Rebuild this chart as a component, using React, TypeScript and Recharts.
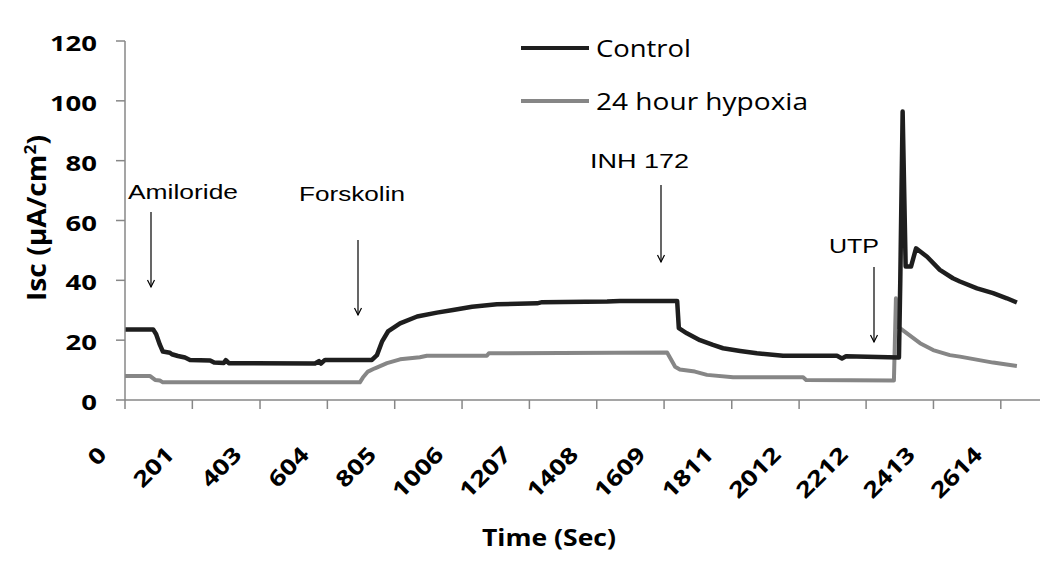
import React from 'react';
import { LineChart, Line, XAxis, YAxis } from 'recharts';

// x ticks (Sec) and y ticks (µA/cm²)
const timeTicks = [0, 201, 403, 604, 805, 1006, 1207, 1408, 1609, 1811, 2012, 2212, 2413, 2614];
const iscTicks = [0, 20, 40, 60, 80, 100, 120];

const seriesNames = ['Control', '24 hour hypoxia'];
const treatments = ['Amiloride', 'Forskolin', 'INH 172', 'UTP'];

// Control trace
const controlTime = [
  0, 84, 93, 104, 113, 134, 140, 158, 179, 194, 254, 266, 295, 301, 310, 567, 579, 585, 597,
  737, 752, 767, 785, 821, 872, 931, 979, 1036, 1110, 1230, 1245, 1439, 1477, 1648, 1653, 1677,
  1716, 1755, 1785, 1836, 1886, 1964, 2125, 2140, 2152, 2310, 2314, 2321, 2330, 2346, 2361,
  2394, 2432, 2471, 2492, 2543, 2591, 2632, 2662,
];
const controlIsc = [
  23.6, 23.6, 22, 18.5, 16.2, 15.8, 15.3, 14.7, 14.2, 13.4, 13.2, 12.5, 12.4, 13.3, 12.3, 12.2, 13.0, 12.2, 13.4,
  13.4, 15, 19.5, 22.9, 25.6, 27.9, 29.2, 30.1, 31.2, 32.0, 32.3, 32.7, 32.9, 33.1, 33.1, 24, 22.3,
  20, 18.4, 17.3, 16.4, 15.6, 14.8, 14.8, 13.9, 14.6, 14.2, 40, 96.4, 44.6, 44.6, 50.7,
  47.9, 43.5, 40.7, 39.6, 37.3, 35.7, 34, 32.6,
];

// 24 hour hypoxia trace
const hypoxiaTime = [
  0, 75, 90, 104, 113, 701, 710, 725, 746, 782, 821, 880, 901, 1080, 1086, 1618, 1642, 1656,
  1701, 1737, 1815, 2024, 2033, 2295, 2301, 2307, 2334, 2373, 2412, 2462, 2492, 2591, 2662,
];
const hypoxiaIsc = [
  8.0, 8.0, 6.7, 6.5, 5.9, 5.9, 7.5, 9.5, 10.6, 12.3, 13.6, 14.3, 14.8, 14.8, 15.6, 15.9, 11.1, 10.2,
  9.5, 8.4, 7.6, 7.6, 6.7, 6.5, 34, 24.5, 22.3, 19, 16.7, 15, 14.5, 12.5, 11.4,
];

const controlData = controlTime.map((t, i) => ({ t, isc: controlIsc[i] }));
const hypoxiaData = hypoxiaTime.map((t, i) => ({ t, isc: hypoxiaIsc[i] }));

const AXIS = '#878787';
const DARK = '#1e1e1e';
const GREY = '#868686';
const BOLD_FONT = '"Open Sans", Lato, sans-serif';
const NOTE_FONT = '"Liberation Sans", Arial, sans-serif';

const YTick = (props: any) => {
  const { x, y, payload } = props;
  const s = String(payload.value);
  return (
    <text x={x - 17} y={y + 10} textAnchor="end" fontFamily={BOLD_FONT} fontWeight={700} fontSize={22}
      textLength={s.length * 15.7} lengthAdjust="spacingAndGlyphs" fill="#000">
      {s}
    </text>
  );
};

const XTick = (props: any) => {
  const { x, y, payload } = props;
  const s = String(payload.value);
  return (
    <text transform={`translate(${x - 17},${y + 45}) rotate(-45)`} textAnchor="end" fontFamily={BOLD_FONT}
      fontWeight={700} fontSize={22} textLength={s.length * 15.5} lengthAdjust="spacingAndGlyphs" fill="#000">
      {s}
    </text>
  );
};

const Arrow = ({ x, y1, y2 }: { x: number; y1: number; y2: number }) => (
  <g stroke="#000" strokeWidth={1.2} fill="none">
    <line x1={x} y1={y1} x2={x} y2={y2} />
    <polyline points={`${x - 3.5},${y2 - 7} ${x},${y2} ${x + 3.5},${y2 - 7}`} />
  </g>
);

const Note = ({ x, y, w, children }: { x: number; y: number; w: number; children: React.ReactNode }) => (
  <text x={x} y={y} fontFamily={NOTE_FONT} fontSize={21} fill="#000" textLength={w} lengthAdjust="spacingAndGlyphs">
    {children}
  </text>
);

export default function App() {
  return (
    <div style={{ position: 'absolute', left: 0, top: 0, width: 1050, height: 570, background: '#fff' }}>
      <LineChart width={1050} height={570} margin={{ top: 41, right: 10, bottom: 0, left: 0 }}>
        <XAxis
          type="number"
          dataKey="t"
          domain={[0, 2731]}
          ticks={timeTicks}
          interval={0}
          height={170}
          tickSize={9}
          axisLine={{ stroke: AXIS, strokeWidth: 1.5 }}
          tickLine={{ stroke: AXIS, strokeWidth: 1.5 }}
          tick={<XTick />}
          allowDataOverflow
        />
        <YAxis
          type="number"
          domain={[0, 120]}
          ticks={iscTicks}
          interval={0}
          width={125}
          tickSize={9}
          axisLine={{ stroke: AXIS, strokeWidth: 1.5 }}
          tickLine={{ stroke: AXIS, strokeWidth: 1.5 }}
          tick={<YTick />}
        />
        <Line data={hypoxiaData} dataKey="isc" name={seriesNames[1]} type="linear" stroke={GREY} strokeWidth={4}
          dot={false} activeDot={false} isAnimationActive={false} strokeLinejoin="round" />
        <Line data={controlData} dataKey="isc" name={seriesNames[0]} type="linear" stroke={DARK} strokeWidth={4.5}
          dot={false} activeDot={false} isAnimationActive={false} strokeLinejoin="round" />

        {/* treatment markers */}
        <Note x={128} y={199} w={110}>{treatments[0]}</Note>
        <Arrow x={151} y1={212} y2={287} />
        <Note x={299} y={201} w={106}>{treatments[1]}</Note>
        <Arrow x={358} y1={240} y2={315} />
        <Note x={590} y={168} w={99}>{treatments[2]}</Note>
        <Arrow x={661} y1={185} y2={262} />
        <Note x={829} y={253} w={50}>{treatments[3]}</Note>
        <Arrow x={874} y1={267} y2={342} />

        {/* legend */}
        <line x1={521} y1={48} x2={589} y2={48} stroke={DARK} strokeWidth={4} />
        <text x={596} y={57} fontFamily={BOLD_FONT} fontSize={24} textLength={95} lengthAdjust="spacingAndGlyphs">{seriesNames[0]}</text>
        <line x1={521} y1={101} x2={589} y2={101} stroke={GREY} strokeWidth={4} />
        <text x={596} y={110} fontFamily={BOLD_FONT} fontSize={24} textLength={212} lengthAdjust="spacingAndGlyphs">{seriesNames[1]}</text>

        {/* axis titles */}
        <text x={482} y={546} fontFamily={BOLD_FONT} fontWeight={700} fontSize={24} textLength={134} lengthAdjust="spacingAndGlyphs">
          Time (Sec)
        </text>
        <text transform="translate(46,301) rotate(-90)" fontFamily={BOLD_FONT} fontWeight={700} fontSize={26}
          textLength={166} lengthAdjust="spacingAndGlyphs">
          Isc (µA/cm<tspan dy={-10} fontSize={16}>2</tspan><tspan dy={10}>)</tspan>
        </text>
      </LineChart>
    </div>
  );
}
